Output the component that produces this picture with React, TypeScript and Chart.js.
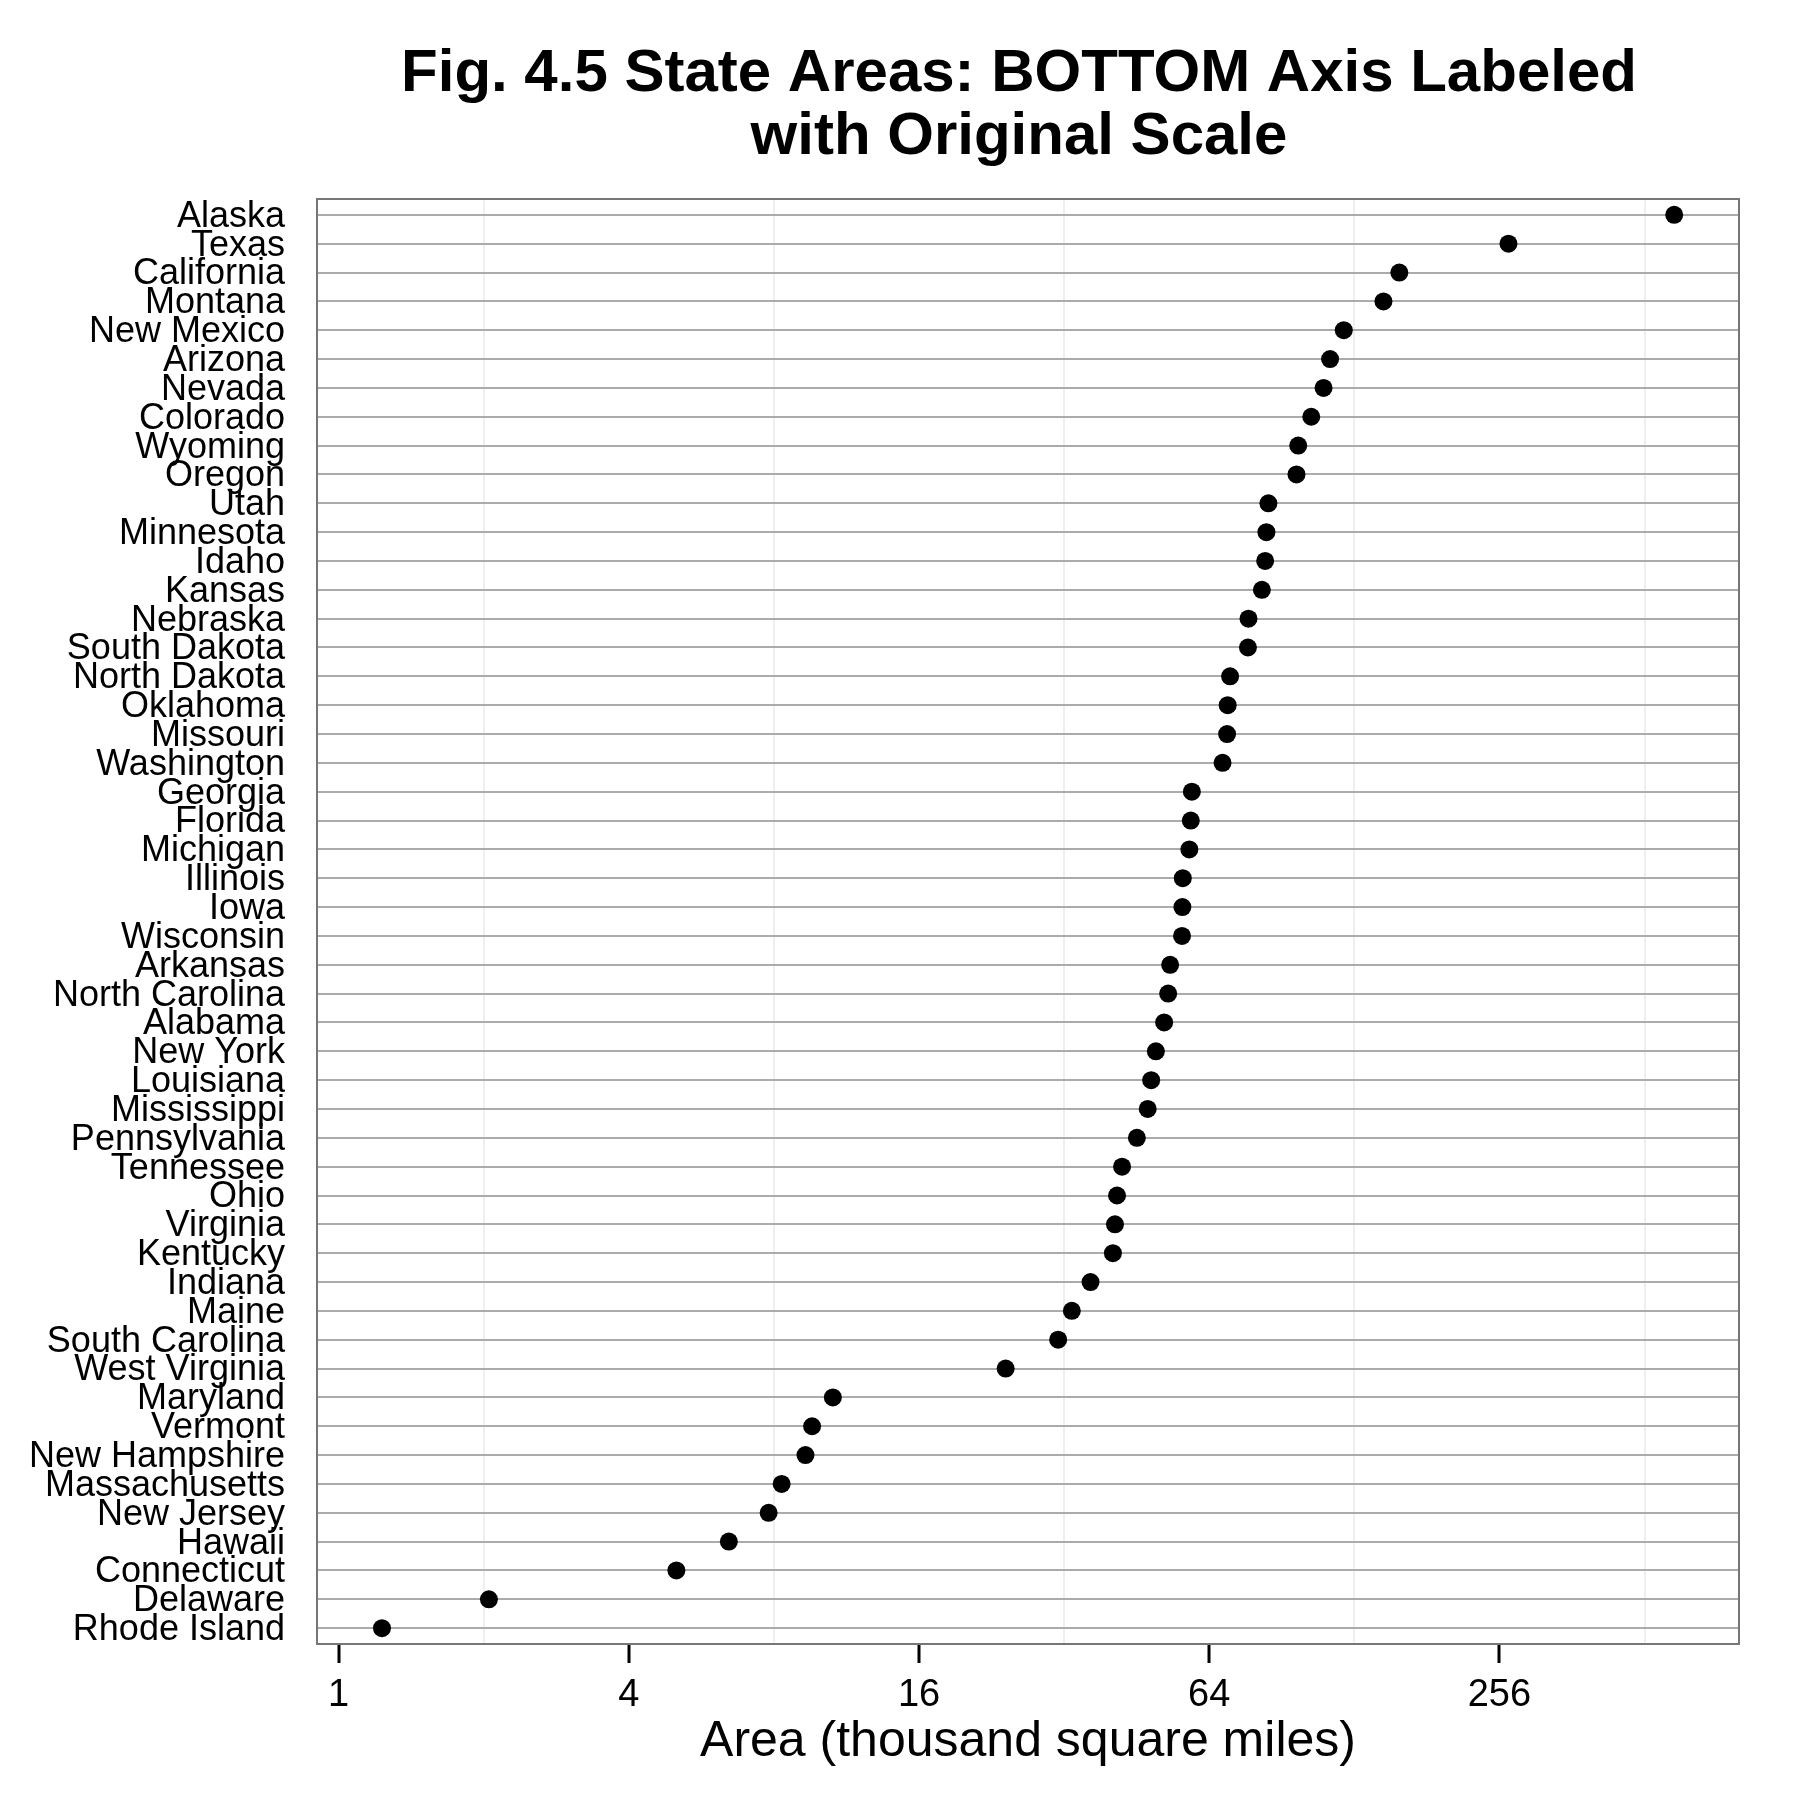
import React, { useEffect, useRef } from "react";
import { Chart, registerables } from "chart.js";

Chart.register(...registerables);

const states = [
  "Alaska", "Texas", "California", "Montana", "New Mexico", "Arizona", "Nevada",
  "Colorado", "Wyoming", "Oregon", "Utah", "Minnesota", "Idaho", "Kansas",
  "Nebraska", "South Dakota", "North Dakota", "Oklahoma", "Missouri", "Washington",
  "Georgia", "Florida", "Michigan", "Illinois", "Iowa", "Wisconsin", "Arkansas",
  "North Carolina", "Alabama", "New York", "Louisiana", "Mississippi", "Pennsylvania",
  "Tennessee", "Ohio", "Virginia", "Kentucky", "Indiana", "Maine", "South Carolina",
  "West Virginia", "Maryland", "Vermont", "New Hampshire", "Massachusetts",
  "New Jersey", "Hawaii", "Connecticut", "Delaware", "Rhode Island",
];

// Area in thousand square miles
const areas = [
  590.0, 267.3, 158.7, 147.1, 121.7, 114.0, 110.5,
  104.2, 97.9, 97.1, 84.9, 84.1, 83.6, 82.3,
  77.2, 77.0, 70.7, 69.9, 69.7, 68.2,
  58.9, 58.6, 58.2, 56.4, 56.3, 56.2, 53.1,
  52.6, 51.6, 49.6, 48.5, 47.7, 45.3,
  42.2, 41.2, 40.8, 40.4, 36.3, 33.2, 31.1,
  24.2, 10.6, 9.6, 9.3, 8.3,
  7.8, 6.45, 5.02, 2.05, 1.23,
];

const xTickValues = [1, 2, 4, 8, 16, 32, 64, 128, 256, 512];
const xTickLabels = ["1", "", "4", "", "16", "", "64", "", "256", ""];
const titleLines = ["Fig. 4.5 State Areas: BOTTOM Axis Labeled", "with Original Scale"];
const xAxisTitle = "Area (thousand square miles)";

const FONT = '"Liberation Sans", Arial, Helvetica, sans-serif';

export default function App() {
  const ref = useRef<HTMLCanvasElement>(null);

  useEffect(() => {
    if (!ref.current) return;

    const titlePlugin = {
      id: "figTitle",
      afterDraw(chart: any) {
        const { ctx, chartArea } = chart;
        ctx.save();
        ctx.font = `bold 60px ${FONT}`;
        ctx.fillStyle = "#000";
        ctx.textAlign = "center";
        ctx.textBaseline = "alphabetic";
        const cx = (chartArea.left + chartArea.right) / 2 - 9;
        titleLines.forEach((t, i) => ctx.fillText(t, cx, 83 + i * 63));
        ctx.restore();
      },
    };

    const boxPlugin = {
      id: "panelBox",
      beforeDatasetsDraw(chart: any) {
        const { ctx, chartArea } = chart;
        const { left, top, right, bottom } = chartArea;
        ctx.save();
        ctx.strokeStyle = "#777777";
        ctx.lineWidth = 2;
        ctx.strokeRect(left, top, right - left, bottom - top);
        ctx.restore();
      },
    };

    const chart = new Chart(ref.current, {
      type: "scatter",
      data: {
        datasets: [
          {
            data: areas.map((a, i) => ({ x: a, y: i })),
            pointRadius: 9,
            pointHoverRadius: 9,
            pointBackgroundColor: "#000",
            pointBorderWidth: 0,
            showLine: false,
          },
        ],
      },
      options: {
        responsive: false,
        animation: false,
        layout: { padding: { top: 191, right: 53, left: 0, bottom: 0 } },
        plugins: {
          legend: { display: false },
          tooltip: { enabled: false },
          title: { display: false },
        },
        scales: {
          x: {
            type: "logarithmic",
            position: "bottom",
            min: 0.9018,
            max: 804,
            afterBuildTicks: (axis: any) => {
              axis.ticks = xTickValues.map((v) => ({ value: v }));
            },
            afterFit: (s: any) => {
              s.height = 144;
            },
            ticks: {
              autoSkip: false,
              maxRotation: 0,
              minRotation: 0,
              padding: 10,
              color: "#000",
              font: { family: FONT, size: 38 },
              callback: (_v: any, i: number) => xTickLabels[i],
            },
            grid: {
              color: (c: any) => (c.index % 2 === 1 ? "#efefef" : "rgba(0,0,0,0)"),
              lineWidth: 2,
              drawTicks: true,
              tickLength: 19,
              tickColor: (c: any) => (c.index % 2 === 0 ? "#000" : "rgba(0,0,0,0)"),
              tickWidth: 3,
            },
            border: { display: false },
            title: {
              display: true,
              text: xAxisTitle,
              color: "#000",
              font: { family: FONT, size: 50 },
              padding: { top: 0, bottom: 16 },
            },
          },
          y: {
            type: "linear",
            reverse: true,
            min: -0.55,
            max: 49.55,
            afterBuildTicks: (axis: any) => {
              axis.ticks = states.map((_s, i) => ({ value: i }));
            },
            afterFit: (s: any) => {
              s.width = 309;
            },
            ticks: {
              autoSkip: false,
              padding: 32,
              labelOffset: 2,
              color: "#000",
              font: { family: FONT, size: 36 },
              callback: (v: any) => states[v as number],
            },
            grid: {
              color: "#ababab",
              lineWidth: 2,
              drawTicks: false,
            },
            border: { display: false },
          },
        },
      },
      plugins: [boxPlugin, titlePlugin],
    } as any);

    return () => chart.destroy();
  }, []);

  return (
    <div style={{ width: 1784, height: 1780 }}>
      <canvas ref={ref} width={1784} height={1780} style={{ display: "block" }} />
    </div>
  );
}
